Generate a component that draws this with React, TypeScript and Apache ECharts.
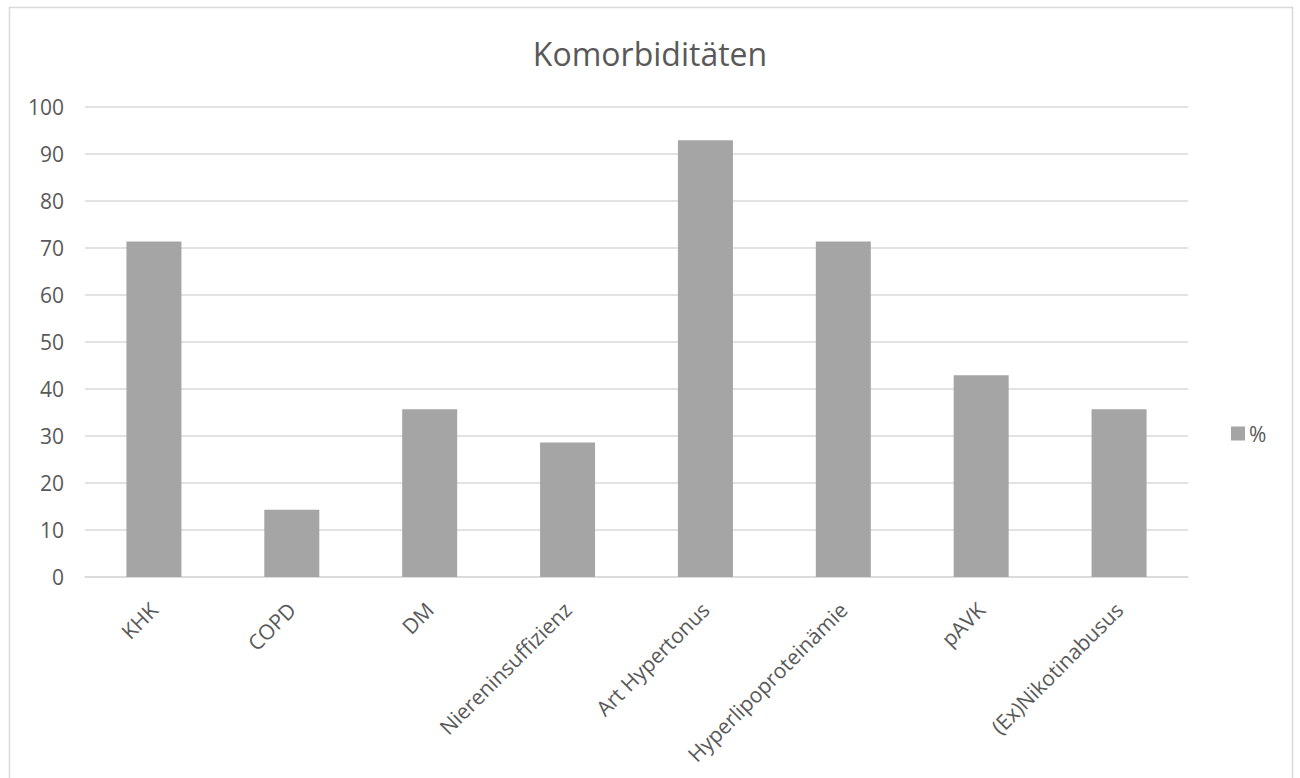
import React, { useEffect, useRef } from "react";
import * as echarts from "echarts";

const categories = [
  "KHK",
  "COPD",
  "DM",
  "Niereninsuffizienz",
  "Art Hypertonus",
  "Hyperlipoproteinämie",
  "pAVK",
  "(Ex)Nikotinabusus",
];
const values = [71.4, 14.3, 35.7, 28.6, 92.9, 71.4, 42.9, 35.7];
const seriesName = "%";
const title = "Komorbiditäten";

const FONT = "'Open Sans', sans-serif";
const TEXT = "#595959";

export default function App() {
  const ref = useRef<HTMLDivElement>(null);
  useEffect(() => {
    if (!ref.current) return;
    const chart = echarts.init(ref.current, undefined, { renderer: "svg" });
    chart.setOption({
      animation: false,
      backgroundColor: "#ffffff",
      title: {
        text: title,
        left: "center",
        top: 32,
        textStyle: { fontFamily: FONT, fontSize: 32, fontWeight: "normal", color: TEXT },
      },
      legend: {
        orient: "vertical",
        left: 1226,
        top: 418,
        itemWidth: 14,
        itemHeight: 14,
        itemGap: 6,
        icon: "rect",
        data: [seriesName],
        textStyle: { fontFamily: FONT, fontSize: 21, color: TEXT, padding: [0, 0, 0, -1] },
      },
      grid: { left: 85, right: 112, top: 107, bottom: 201, containLabel: false },
      xAxis: {
        type: "category",
        data: categories,
        axisLine: { lineStyle: { color: "#d9d9d9", width: 1.5 } },
        axisTick: { show: false },
        axisLabel: {
          rotate: 45,
          interval: 0,
          margin: 29,
          fontFamily: FONT,
          fontSize: 21,
          color: TEXT,
        },
      },
      yAxis: {
        type: "value",
        min: 0,
        max: 100,
        interval: 10,
        axisLine: { show: false },
        axisTick: { show: false },
        splitLine: { lineStyle: { color: "#d9d9d9", width: 1.5 } },
        axisLabel: { fontFamily: FONT, fontSize: 21, color: TEXT, margin: 21 },
      },
      series: [
        {
          name: seriesName,
          type: "bar",
          data: values,
          barWidth: 55,
          itemStyle: { color: "#a5a5a5" },
        },
      ],
      graphic: [
        {
          type: "rect",
          shape: { x: 9.5, y: 7.5, width: 1283, height: 800 },
          style: { fill: "none", stroke: "#d9d9d9", lineWidth: 1.5 },
          silent: true,
        },
      ],
    });
    return () => chart.dispose();
  }, []);
  return (
    <div
      ref={ref}
      style={{ position: "absolute", left: 0, top: 0, width: 1300, height: 778 }}
    />
  );
}
